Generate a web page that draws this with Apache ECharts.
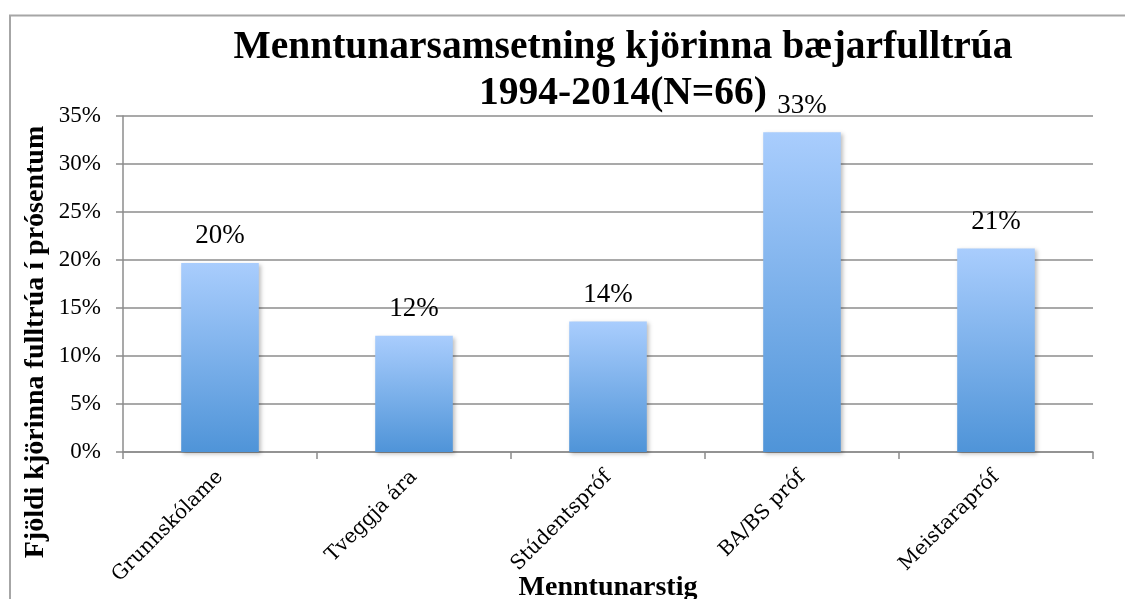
<!DOCTYPE html>
<html>
<head>
<meta charset="utf-8">
<script src="https://cdn.jsdelivr.net/npm/echarts@6/dist/echarts.min.js"></script>
<style>
  html, body { margin: 0; padding: 0; background: #fff; }
  #main { width: 1125px; height: 599px; }
</style>
</head>
<body>
<div id="main"></div>
<script>
// gögn: 13, 8, 9, 22, 14 af 66
var categories = ['Grunnskólame', 'Tveggja ára', 'Stúdentspróf', 'BA/BS próf', 'Meistarapróf'];
var values = [19.7, 12.1, 13.6, 33.3, 21.2];
var valueLabels = ['20%', '12%', '14%', '33%', '21%'];

var serif = '"Liberation Serif", "DejaVu Serif", serif';
var myChart = echarts.init(document.getElementById('main'));

var option = {
    backgroundColor: '#fff',
    animation: false,
    title: {
        text: 'Menntunarsamsetning kjörinna bæjarfulltrúa\n1994-2014(N=66)',
        left: 618,
        top: 20,
        textAlign: 'center',
        textStyle: {
            fontFamily: serif,
            fontWeight: 'bold',
            fontSize: 39.5,
            lineHeight: 46,
            color: '#000'
        }
    },
    grid: {
        left: 123,
        right: 32,
        top: 116,
        bottom: 147,
        containLabel: false,
        outerBoundsMode: 'none'
    },
    xAxis: {
        type: 'category',
        data: categories,
        name: 'Menntunarstig',
        nameLocation: 'middle',
        nameGap: 122,
        nameMoveOverlap: false,
        nameTextStyle: {
            fontFamily: serif,
            fontWeight: 'bold',
            fontSize: 28,
            color: '#000'
        },
        axisLine: { lineStyle: { color: '#8c8c8c', width: 1.5 } },
        axisTick: { show: true, length: 7, lineStyle: { color: '#8c8c8c', width: 1.5 } },
        axisLabel: {
            rotate: 45,
            margin: 22,
            fontFamily: '"DejaVu Serif", serif',
            fontSize: 20,
            color: '#000'
        }
    },
    yAxis: {
        type: 'value',
        min: 0,
        max: 35,
        interval: 5,
        axisLine: { show: true, lineStyle: { color: '#8c8c8c', width: 1.5 } },
        axisTick: { show: true, length: 7, lineStyle: { color: '#8c8c8c', width: 1.5 } },
        axisLabel: {
            margin: 22,
            formatter: '{value}%',
            fontFamily: serif,
            fontSize: 23,
            color: '#000'
        },
        splitLine: { lineStyle: { color: '#8c8c8c', width: 1.5 } }
    },
    series: [{
        type: 'bar',
        data: values,
        barWidth: '40%',
        itemStyle: {
            color: new echarts.graphic.LinearGradient(0, 0, 0, 1, [
                { offset: 0, color: '#a9cdfd' },
                { offset: 1, color: '#4f94d8' }
            ]),
            shadowColor: 'rgba(0,0,0,0.25)',
            shadowBlur: 4,
            shadowOffsetX: 2,
            shadowOffsetY: 2
        },
        label: {
            show: true,
            position: 'top',
            distance: 13,
            formatter: function (p) { return valueLabels[p.dataIndex]; },
            fontFamily: serif,
            fontSize: 27,
            color: '#000'
        }
    }],
    graphic: [{
        type: 'polyline',
        shape: { points: [[10, 599], [10, 15.5], [1125, 15.5]] },
        style: { stroke: '#a6a6a6', lineWidth: 2, fill: null },
        silent: true
    }, {
        // y-ás titill
        type: 'text',
        x: 36,
        y: 342,
        rotation: Math.PI / 2,
        style: {
            text: 'Fjöldi kjörinna fulltrúa í prósentum',
            fontFamily: serif,
            fontWeight: 'bold',
            fontSize: 28,
            fill: '#000',
            textAlign: 'center',
            textVerticalAlign: 'middle'
        },
        silent: true
    }]
};

myChart.setOption(option);
</script>
</body>
</html>
